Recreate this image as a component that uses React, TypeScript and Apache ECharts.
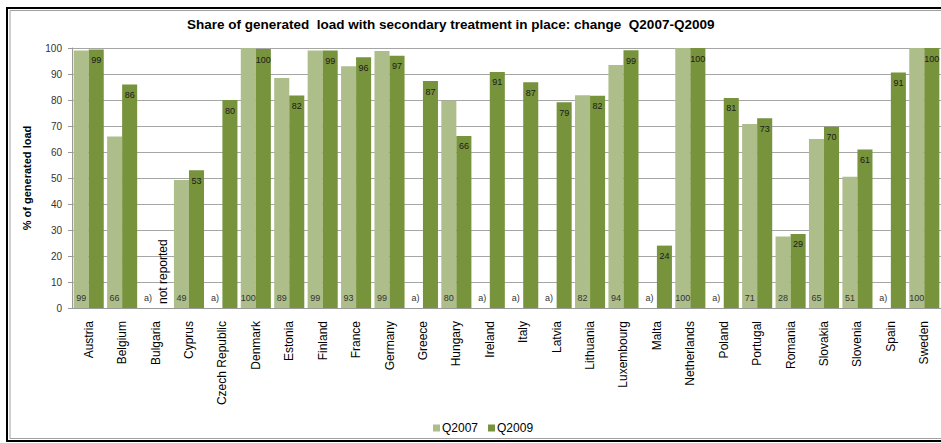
import React, { useEffect, useRef } from "react";
import * as echarts from "echarts";

const categories = [
  "Austria", "Belgium", "Bulgaria", "Cyprus", "Czech Republic", "Denmark", "Estonia",
  "Finland", "France", "Germany", "Greece", "Hungary", "Ireland", "Italy", "Latvia",
  "Lithuania", "Luxembourg", "Malta", "Netherlands", "Poland", "Portugal", "Romania",
  "Slovakia", "Slovenia", "Spain", "Sweden",
];

// null = not available, shown as "a)"
const q2007: (number | null)[] = [
  99, 66, null, 49.2, null, 100, 88.5, 99, 93, 98.8, null, 79.7, null, null, null,
  81.8, 93.5, null, 100, null, 70.8, 27.5, 65, 50.5, null, 100,
];

const q2009: (number | null)[] = [
  99.4, 86, null, 53, 80, 99.6, 81.7, 99, 96.4, 97, 87.3, 66.2, 90.8, 86.8, 79.1,
  81.6, 99.1, 24, 100, 80.8, 73, 28.5, 69.7, 61, 90.6, 100,
];

const missingNote2007 = "a)";
const missingNote2009 = "not reported";

const yTicks = [0, 10, 20, 30, 40, 50, 60, 70, 80, 90, 100];

const LIGHT = "#adbe8a";
const DARK = "#77933c";
const FONT = "Liberation Sans, Arial, sans-serif";

export default function App() {
  const ref = useRef<HTMLDivElement>(null);

  useEffect(() => {
    if (!ref.current) return;
    const chart = echarts.init(ref.current, null, { renderer: "svg" });

    const d2007 = q2007.map((v) =>
      v === null
        ? { value: 0, label: { formatter: missingNote2007 } }
        : { value: v }
    );
    const d2009 = q2009.map((v) =>
      v === null
        ? {
            value: 0,
            label: {
              formatter: missingNote2009,
              position: "insideBottom",
              rotate: 90,
              align: "left",
              verticalAlign: "middle",
              distance: 4,
              fontSize: 12,
              color: "#000",
            },
          }
        : { value: v }
    );

    chart.setOption({
      animation: false,
      backgroundColor: "#fff",
      title: {
        text: "Share of generated  load with secondary treatment in place: change  Q2007-Q2009",
        left: 182,
        top: 12,
        textStyle: { fontFamily: FONT, fontSize: 13.5, fontWeight: "bold", color: "#000" },
      },
      legend: {
        left: 428,
        top: 417,
        itemWidth: 7,
        itemHeight: 7,
        itemGap: 10,
        icon: "rect",
        textStyle: { fontFamily: FONT, fontSize: 12, color: "#000", padding: [0, 0, 0, -3] },
        data: ["Q2007", "Q2009"],
      },
      grid: { left: 72, top: 48, width: 871, height: 260 },
      xAxis: {
        type: "category",
        data: categories,
        axisLine: { lineStyle: { color: "#9a9a9a" } },
        axisTick: { length: 5, lineStyle: { color: "#9a9a9a" } },
        axisLabel: {
          rotate: 90,
          interval: 0,
          margin: 13,
          fontFamily: FONT,
          fontSize: 12,
          color: "#000",
        },
      },
      yAxis: {
        type: "value",
        min: 0,
        max: 100,
        interval: 10,
        name: "% of generated load",
        nameLocation: "middle",
        nameGap: 40,
        nameTextStyle: { fontFamily: FONT, fontSize: 11, fontWeight: "bold", color: "#000" },
        axisLine: { show: true, lineStyle: { color: "#9a9a9a" } },
        axisTick: { show: true, inside: false, length: 4, lineStyle: { color: "#9a9a9a" } },
        axisLabel: {
          margin: 10,
          fontFamily: FONT,
          fontSize: 10,
          color: "#333",
          formatter: (v: number) => (yTicks.includes(v) ? String(v) : ""),
        },
        splitLine: { lineStyle: { color: "#a6a6a6" } },
      },
      series: [
        {
          name: "Q2007",
          type: "bar",
          data: d2007,
          barGap: "0%",
          barCategoryGap: "10%",
          itemStyle: { color: LIGHT },
          label: {
            show: true,
            position: "insideBottom",
            distance: 6,
            fontFamily: FONT,
            fontSize: 9,
            color: "#333",
            formatter: (p: any) => String(Math.round(p.value)),
          },
        },
        {
          name: "Q2009",
          type: "bar",
          data: d2009,
          itemStyle: { color: DARK },
          label: {
            show: true,
            position: "insideTop",
            distance: 6,
            fontFamily: FONT,
            fontSize: 9,
            color: "#1a1a1a",
            formatter: (p: any) => String(Math.round(p.value)),
          },
        },
      ],
      graphic: [
        {
          type: "rect",
          shape: { x: 7, y: 8, width: 945, height: 433 },
          style: { fill: "none", stroke: "#000", lineWidth: 2 },
          silent: true,
        },
        {
          type: "rect",
          shape: { x: 10, y: 10.5, width: 945, height: 428 },
          style: { fill: "none", stroke: "#a0a0a0", lineWidth: 1 },
          silent: true,
        },
      ],
    });

    return () => chart.dispose();
  }, []);

  return (
    <div
      ref={ref}
      style={{ position: "absolute", left: 0, top: 0, width: 941, height: 443 }}
    />
  );
}
